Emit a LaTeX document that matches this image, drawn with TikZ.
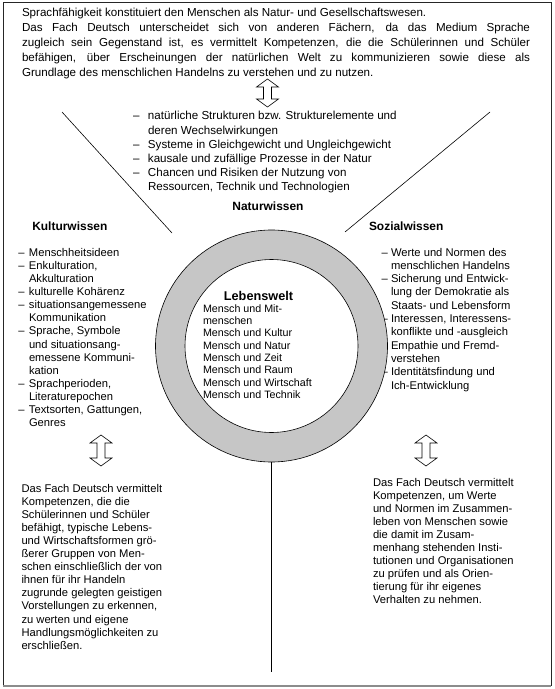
\documentclass[tikz,border=0pt]{standalone}
\usepackage{fontspec}
\setmainfont{Liberation Sans}
\newlength\dashw
\newcommand\Lns[2]{\vtop{\baselineskip=#1\lineskiplimit=-100bp\lineskip=0bp\relax #2}}
\newcommand\dl[1]{\hbox{\makebox[\dashw][l]{–}#1}}
\newcommand\cl[1]{\hbox{\kern\dashw #1}}
\newcommand\pl[1]{\hbox{#1}}
\newcommand\jl[1]{\hbox to 508bp{#1}}
\newcommand\dblarrow[3]{%
  \draw[arr] (#1,#2) -- ++(11,8) -- ++(-7,0) -- ++(0,#3-16) -- ++(7,0)
    -- ++(-11,8) -- ++(-11,-8) -- ++(7,0) -- ++(0,16-#3) -- ++(-7,0) -- cycle;}
\definecolor{ringgray}{RGB}{198,198,198}
\tikzset{
  txt/.style={inner sep=0pt, outer sep=0pt, anchor=base west},
  hd/.style={inner sep=0pt, outer sep=0pt, font=\fontsize{12}{14}\bfseries\selectfont},
  body/.style={txt, font=\fontsize{11.2bp}{13bp}\selectfont},
  big/.style={txt, font=\fontsize{11.6bp}{14.9bp}\selectfont},
  arr/.style={draw=black, line width=0.6bp, fill=white, line join=miter},
  thin/.style={draw=black, line width=0.6bp},
}
\begin{document}
\begin{tikzpicture}[x=1bp,y=-1bp]
\useasboundingbox (0,0) rectangle (555,689);
% frame
\draw[line width=1bp, black!85] (3,686) -- (3,3) -- (551,3) -- (551,686);
\draw[line width=1.2bp, black!45] (3,686) -- (551,686);

% top paragraph
\node[big] (top) at (22,17) {\Lns{14.9bp}{%
  \pl{Sprachfähigkeit konstituiert den Menschen als Natur- und Gesellschaftswesen.}
  \jl{Das Fach Deutsch unterscheidet sich von anderen Fächern, da das Medium Sprache}
  \jl{zugleich sein Gegenstand ist, es vermittelt Kompetenzen, die die Schülerinnen und Schüler}
  \jl{befähigen, über Erscheinungen der natürlichen Welt zu kommunizieren sowie diese als}
  \pl{Grundlage des menschlichen Handelns zu verstehen und zu nutzen.}}};

\dblarrow{267.5}{79}{28}

% Naturwissen list
\node[big] (nl) at (133,120) {\setlength\dashw{15bp}\Lns{14.1bp}{%
  \dl{natürliche Strukturen bzw. Strukturelemente und}
  \cl{deren Wechselwirkungen}
  \dl{Systeme in Gleichgewicht und Ungleichgewicht}
  \dl{kausale und zufällige Prozesse in der Natur}
  \dl{Chancen und Risiken der Nutzung von}
  \cl{Ressourcen, Technik und Technologien}}};
\node[hd, anchor=base] (nh) at (268,210) {Naturwissen};

% diagonals
\coordinate (dla) at (62,112);
\coordinate (dlb) at (172,233);
\coordinate (dra) at (490,112);
\coordinate (drb) at (345,232);
\draw[thin] (dla) -- (dlb);
\draw[thin] (dra) -- (drb);

% Kulturwissen
\node[hd, anchor=base west] (kh) at (32.3,230) {Kulturwissen};
\node[body] (kl) at (18.3,256) {\setlength\dashw{10.7bp}\Lns{13.15bp}{%
  \dl{Menschheitsideen}
  \dl{Enkulturation,}
  \cl{Akkulturation}
  \dl{kulturelle Kohärenz}
  \dl{situationsangemessene}
  \cl{Kommunikation}
  \dl{Sprache, Symbole}
  \cl{und situationsang-}
  \cl{emessene Kommuni-}
  \cl{kation}
  \dl{Sprachperioden,}
  \cl{Literaturepochen}
  \dl{Textsorten, Gattungen,}
  \cl{Genres}}};

% Sozialwissen
\node[hd, anchor=base west] (sh) at (369,230) {Sozialwissen};
\node[body] (sl) at (381.5,256) {\setlength\dashw{9.5bp}\Lns{13.3bp}{%
  \dl{Werte und Normen des}
  \cl{menschlichen Handelns}
  \dl{Sicherung und Entwick-}
  \cl{lung der Demokratie als}
  \cl{Staats- und Lebensform}
  \dl{Interessen, Interessens-}
  \cl{konflikte und -ausgleich}
  \dl{Empathie und Fremd-}
  \cl{verstehen}
  \dl{Identitätsfindung und}
  \cl{Ich-Entwicklung}}};

% ring
\node[circle, minimum size=232bp, inner sep=0pt, outer sep=0pt, fill=ringgray, thin] (ring) at (271.5,346) {};
\node[circle, minimum size=173bp, inner sep=0pt, outer sep=0pt, fill=white, thin] (inner) at (271.5,346) {};
\coordinate (vend) at (271.5,672);
\draw[thin] (ring.south) -- (vend);

% Lebenswelt
\node[inner sep=0pt, anchor=base, font=\fontsize{12.7bp}{15bp}\bfseries\selectfont] (lh) at (258.5,300) {Lebenswelt};
\node[txt, font=\fontsize{10.7bp}{12.3bp}\selectfont] (ll) at (203,312.3) {\Lns{12.3bp}{%
  \pl{Mensch und Mit-}
  \pl{menschen}
  \pl{Mensch und Kultur}
  \pl{Mensch und Natur}
  \pl{Mensch und Zeit}
  \pl{Mensch und Raum}
  \pl{Mensch und Wirtschaft}
  \pl{Mensch und Technik}}};

% side arrows
\dblarrow{101}{435}{31}
\dblarrow{426}{435}{31}

% bottom paragraphs
\node[body] (bl) at (21.5,492) {\Lns{13.1bp}{%
  \pl{Das Fach Deutsch vermittelt}
  \pl{Kompetenzen, die die}
  \pl{Schülerinnen und Schüler}
  \pl{befähigt, typische Lebens-}
  \pl{und Wirtschaftsformen grö-}
  \pl{ßerer Gruppen von Men-}
  \pl{schen einschließlich der von}
  \pl{ihnen für ihr Handeln}
  \pl{zugrunde gelegten geistigen}
  \pl{Vorstellungen zu erkennen,}
  \pl{zu werten und eigene}
  \pl{Handlungsmöglichkeiten zu}
  \pl{erschließen.}}};
\node[body] (br) at (373,486) {\Lns{13.1bp}{%
  \pl{Das Fach Deutsch vermittelt}
  \pl{Kompetenzen, um Werte}
  \pl{und Normen im Zusammen-}
  \pl{leben von Menschen sowie}
  \pl{die damit im Zusam-}
  \pl{menhang stehenden Insti-}
  \pl{tutionen und Organisationen}
  \pl{zu prüfen und als Orien-}
  \pl{tierung für ihr eigenes}
  \pl{Verhalten zu nehmen.}}};
\end{tikzpicture}
\end{document}
